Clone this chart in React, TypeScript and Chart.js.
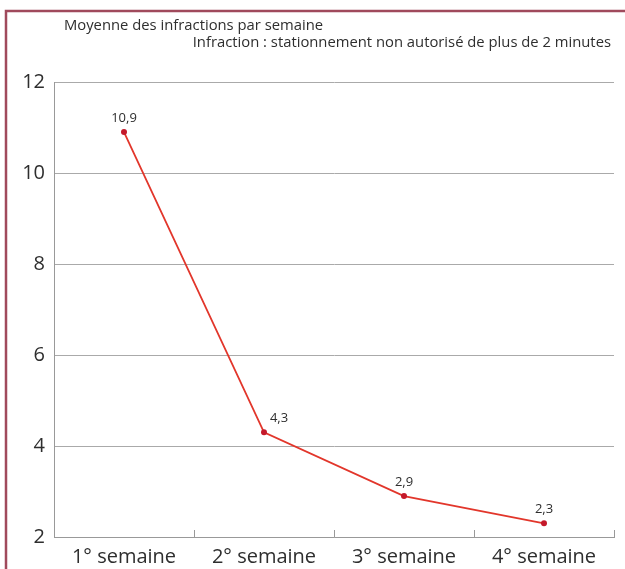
import React, { useEffect, useRef } from "react";
import { Chart, registerables } from "chart.js";

Chart.register(...registerables);

const categories = ["1° semaine", "2° semaine", "3° semaine", "4° semaine"];
const averages = [10.9, 4.3, 2.9, 2.3];
const yTicks = [2, 4, 6, 8, 10, 12];
const titleLine1 = "Moyenne des infractions par semaine";
const titleLine2 = "Infraction : stationnement non autorisé de plus de 2 minutes";

const FONT = "'Open Sans', 'Noto Sans', sans-serif";

const framePlugin = {
  id: "frame",
  beforeDraw(chart: any) {
    const { ctx, width, height } = chart;
    ctx.save();
    ctx.fillStyle = "#ffffff";
    ctx.fillRect(0, 0, width, height);
    ctx.strokeStyle = "#a04a5c";
    ctx.lineWidth = 2.5;
    ctx.beginPath();
    ctx.moveTo(6, height);
    ctx.lineTo(6, 11);
    ctx.lineTo(width, 11);
    ctx.stroke();
    ctx.restore();
  },
  afterDraw(chart: any) {
    const { ctx, width } = chart;
    ctx.save();
    ctx.fillStyle = "#2e2e2e";
    ctx.font = `14.8px ${FONT}`;
    ctx.textBaseline = "middle";
    ctx.textAlign = "left";
    ctx.fillText(titleLine1, 64, 26);
    ctx.textAlign = "right";
    ctx.fillText(titleLine2, width - 14, 43);
    ctx.restore();
  },
};

const innerTicksPlugin = {
  id: "innerTicks",
  afterDatasetsDraw(chart: any) {
    const { ctx, scales } = chart;
    const x = scales.x;
    const y = scales.y;
    const base = y.getPixelForValue(y.min);
    ctx.save();
    ctx.strokeStyle = "#999999";
    ctx.lineWidth = 1;
    ctx.beginPath();
    const n = x.ticks.length;
    for (let i = 0; i < n; i++) {
      const p = x.getPixelForTick(i);
      const b = i < n - 1 ? (p + x.getPixelForTick(i + 1)) / 2 : x.right;
      const px = Math.round(b) + 0.5;
      ctx.moveTo(px, base);
      ctx.lineTo(px, base - 7);
    }
    ctx.stroke();
    ctx.restore();
  },
};

const valueLabelsPlugin = {
  id: "valueLabels",
  afterDatasetsDraw(chart: any, _args: any, opts: any) {
    const { ctx } = chart;
    const meta = chart.getDatasetMeta(0);
    const data = chart.data.datasets[0].data as number[];
    const shifts = (opts && opts.shifts) || [];
    ctx.save();
    ctx.fillStyle = "#2e2e2e";
    ctx.font = `13px ${FONT}`;
    ctx.textAlign = "center";
    ctx.textBaseline = "middle";
    meta.data.forEach((pt: any, i: number) => {
      const label = String(data[i]).replace(".", ",");
      ctx.fillText(label, pt.x + (shifts[i] || 0), pt.y - 14);
    });
    ctx.restore();
  },
};

export default function App() {
  const canvasRef = useRef<HTMLCanvasElement | null>(null);

  useEffect(() => {
    if (!canvasRef.current) return;
    const chart = new Chart(canvasRef.current, {
      type: "line",
      data: {
        labels: categories,
        datasets: [
          {
            data: averages,
            borderColor: "#e2362b",
            borderWidth: 1.8,
            pointRadius: 3,
            pointBackgroundColor: "#c4192a",
            pointBorderColor: "#c4192a",
            pointBorderWidth: 0,
            tension: 0,
            fill: false,
          },
        ],
      },
      options: {
        responsive: false,
        animation: false,
        events: [],
        layout: { padding: { left: 0, right: 11, top: 82, bottom: 0 } },
        plugins: {
          legend: { display: false },
          tooltip: { enabled: false },
          title: { display: false },
          valueLabels: { shifts: [0, 15, 0, 0] },
        } as any,
        scales: {
          x: {
            type: "category",
            offset: true,
            grid: { display: false, drawTicks: false },
            border: { display: true, color: "#999999", width: 1 },
            ticks: {
              color: "#2e2e2e",
              font: { family: FONT, size: 20 },
              padding: 8,
              maxRotation: 0,
              autoSkip: false,
            },
            afterFit(scale: any) {
              scale.height = 32;
            },
          },
          y: {
            min: 2,
            max: 12,
            afterBuildTicks(scale: any) {
              scale.ticks = yTicks.map((v) => ({ value: v }));
            },
            grid: { color: "#aaaaaa", lineWidth: 1, drawTicks: false },
            border: { display: true, color: "#999999", width: 1 },
            ticks: {
              color: "#2e2e2e",
              font: { family: FONT, size: 20 },
              padding: 9,
            },
            afterFit(scale: any) {
              scale.width = 54;
            },
          },
        },
      },
      plugins: [framePlugin, innerTicksPlugin, valueLabelsPlugin],
    });
    return () => chart.destroy();
  }, []);

  return (
    <div style={{ position: "fixed", left: 0, top: 0, width: 625, height: 569 }}>
      <canvas ref={canvasRef} width={625} height={569} style={{ display: "block" }} />
    </div>
  );
}
